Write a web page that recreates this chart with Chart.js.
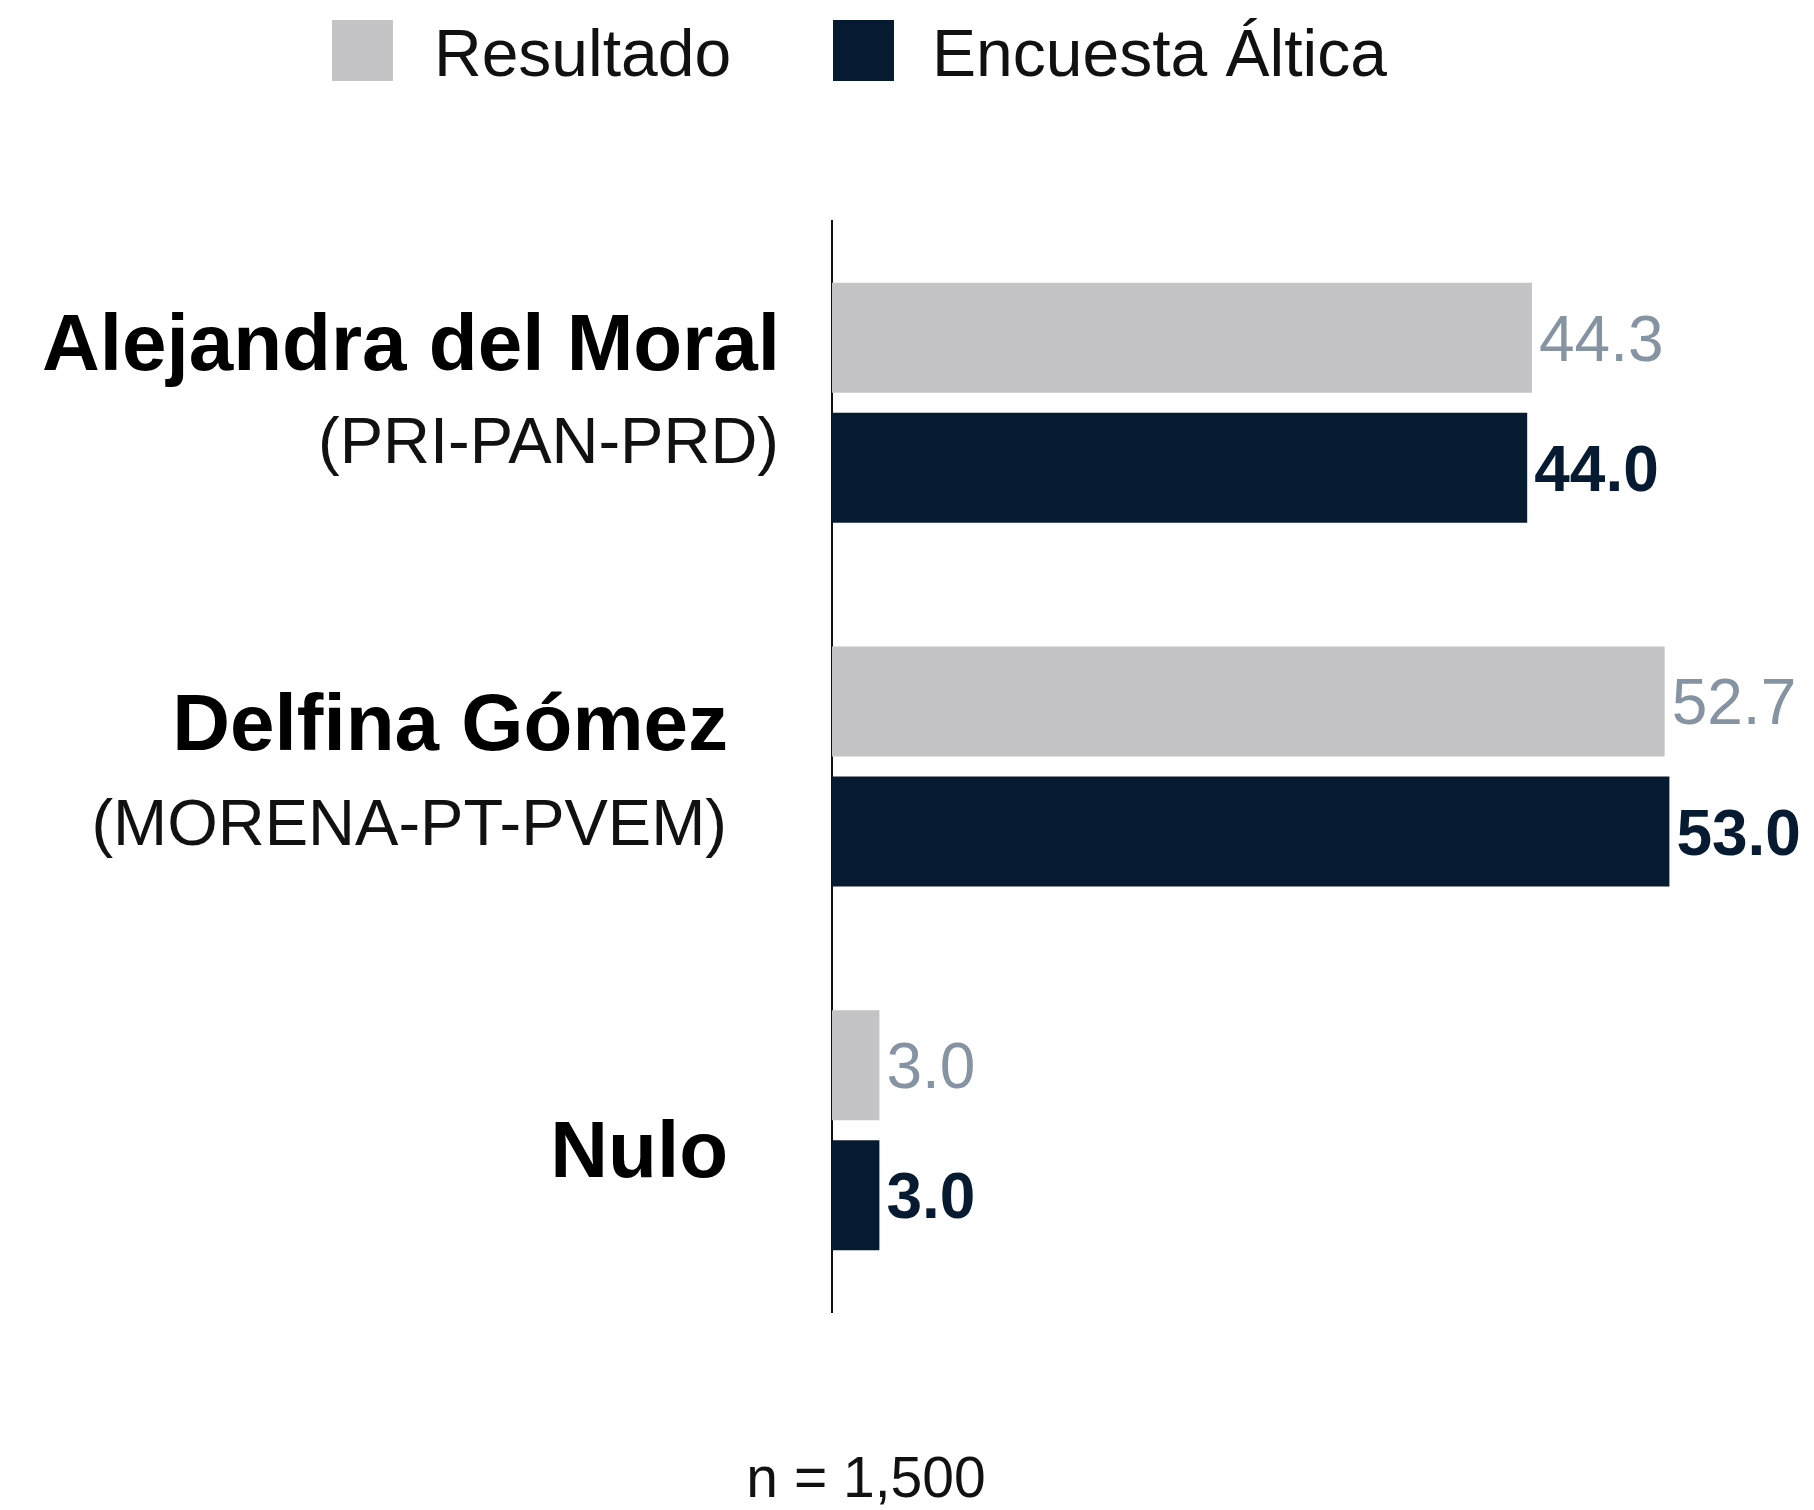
<!DOCTYPE html>
<html>
<head>
<meta charset="utf-8">
<script src="https://cdn.jsdelivr.net/npm/chart.js@4/dist/chart.umd.min.js"></script>
<style>
  html, body { margin: 0; padding: 0; background: #ffffff; }
  #wrap { width: 1814px; height: 1510px; }
</style>
</head>
<body>
<div id="wrap"><canvas id="c" width="1814" height="1510"></canvas></div>
<script>
// ---- data ----
const categories = ['Alejandra del Moral', 'Delfina Gómez', 'Nulo'];
const parties = ['(PRI-PAN-PRD)', '(MORENA-PT-PVEM)', ''];
const seriesNames = ['Resultado', 'Encuesta Áltica'];
const resultado = [44.3, 52.7, 3.0];
const encuesta = [44.0, 53.0, 3.0];
const sampleNote = 'n = 1,500';

// ---- styles ----
const FONT = '"Liberation Sans", Arial, Helvetica, sans-serif';
const GRAY = '#C4C4C6';
const NAVY = '#061B31';
const GRAY_LABEL = '#8593A2';

// per-category label placement (offsets from category centre, right edges)
const labelLayout = [
  { nameDy: -33, nameRight: 780, partyDy: 60, partyRight: 779 },
  { nameDy: -17, nameRight: 728, partyDy: 78, partyRight: 727 },
  { nameDy: 47, nameRight: 728, partyDy: 0, partyRight: 727 }
];

const categoryLabels = {
  id: 'categoryLabels',
  afterDraw(chart) {
    const ctx = chart.ctx;
    const y = chart.scales.y;
    ctx.save();
    ctx.textAlign = 'right';
    ctx.textBaseline = 'alphabetic';
    categories.forEach((name, i) => {
      const cy = y.getPixelForValue(i);
      const L = labelLayout[i];
      ctx.fillStyle = '#000000';
      ctx.font = 'bold 80px ' + FONT;
      ctx.fillText(name, L.nameRight, cy + L.nameDy);
      if (parties[i]) {
        ctx.fillStyle = '#111111';
        ctx.font = '300 65px ' + FONT;
        ctx.fillText(parties[i], L.partyRight, cy + L.partyDy);
      }
    });
    ctx.restore();
  }
};

const valueLabels = {
  id: 'valueLabels',
  afterDatasetsDraw(chart) {
    const ctx = chart.ctx;
    ctx.save();
    ctx.textAlign = 'left';
    ctx.textBaseline = 'alphabetic';
    chart.data.datasets.forEach((ds, di) => {
      const meta = chart.getDatasetMeta(di);
      meta.data.forEach((bar, i) => {
        const v = ds.data[i];
        if (di === 0) {
          ctx.font = '64px ' + FONT;
          ctx.fillStyle = GRAY_LABEL;
        } else {
          ctx.font = 'bold 64px ' + FONT;
          ctx.fillStyle = NAVY;
        }
        ctx.fillText(v.toFixed(1), bar.x + 7, bar.y + 23);
      });
    });
    ctx.restore();
  }
};

const customLegend = {
  id: 'customLegend',
  afterDraw(chart) {
    const ctx = chart.ctx;
    const boxX = [332, 833];
    const textX = [434, 932];
    ctx.save();
    ctx.textAlign = 'left';
    ctx.textBaseline = 'alphabetic';
    ctx.font = '66px ' + FONT;
    chart.data.datasets.forEach((ds, i) => {
      ctx.fillStyle = ds.backgroundColor;
      ctx.fillRect(boxX[i], 20, 61, 61);
      ctx.fillStyle = '#111111';
      ctx.fillText(ds.label, textX[i], 76);
    });
    ctx.restore();
  }
};

const footNote = {
  id: 'footNote',
  afterDraw(chart) {
    const ctx = chart.ctx;
    ctx.save();
    ctx.textAlign = 'center';
    ctx.textBaseline = 'alphabetic';
    ctx.font = '57px ' + FONT;
    ctx.fillStyle = '#111111';
    ctx.fillText(sampleNote, 866, 1497);
    ctx.restore();
  }
};

new Chart(document.getElementById('c'), {
  type: 'bar',
  data: {
    labels: categories,
    datasets: [
      { label: seriesNames[0], data: resultado, backgroundColor: GRAY, borderWidth: 0,
        categoryPercentage: 0.715, barPercentage: 0.846 },
      { label: seriesNames[1], data: encuesta, backgroundColor: NAVY, borderWidth: 0,
        categoryPercentage: 0.715, barPercentage: 0.846 }
    ]
  },
  options: {
    indexAxis: 'y',
    responsive: false,
    devicePixelRatio: 1,
    animation: false,
    layout: { padding: { left: 832, right: 34, top: 221, bottom: 198 } },
    scales: {
      x: { type: 'linear', min: 0, max: 60, display: false },
      y: {
        type: 'category',
        offset: true,
        grid: { display: false, drawTicks: false },
        ticks: { display: false },
        border: { display: true, color: '#111111', width: 2 },
        afterFit(s) { s.width = 0; }
      }
    },
    plugins: {
      legend: { display: false },
      tooltip: { enabled: false },
      title: { display: false }
    }
  },
  plugins: [categoryLabels, valueLabels, customLegend, footNote]
});
</script>
</body>
</html>
